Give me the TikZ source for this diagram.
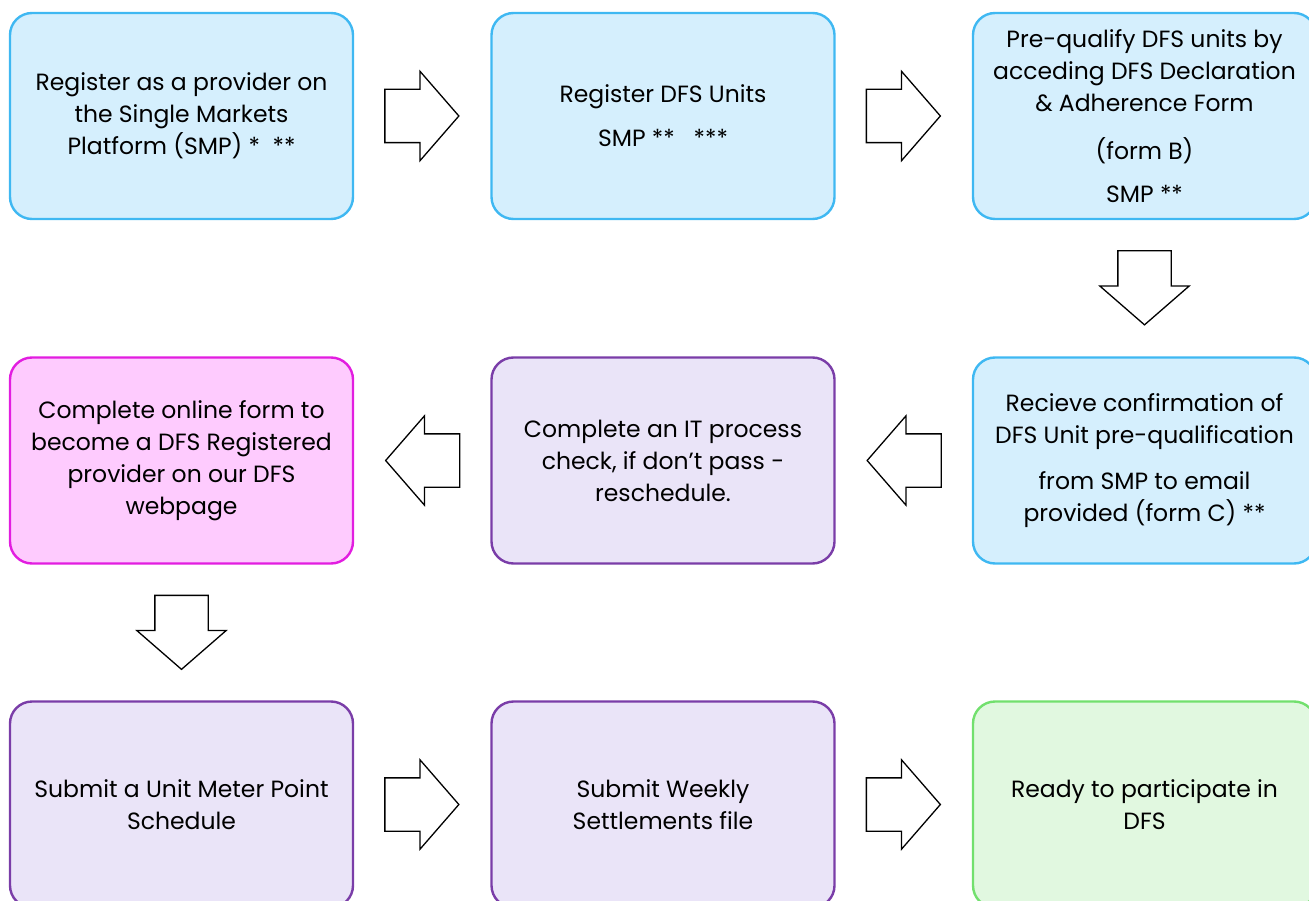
\documentclass[tikz,border=0pt]{standalone}
\usepackage{fontspec}
\setmainfont{Poppins}
\usepackage{tikz}
\usetikzlibrary{shapes.arrows, calc}
\definecolor{skyfill}{HTML}{D5EFFD}
\definecolor{skyline}{HTML}{3FB8F2}
\definecolor{pinkfill}{HTML}{FECBFE}
\definecolor{pinkline}{HTML}{E21DE0}
\definecolor{lilacfill}{HTML}{EAE4F8}
\definecolor{lilacline}{HTML}{7A3DA8}
\definecolor{mintfill}{HTML}{E1F8E0}
\definecolor{mintline}{HTML}{72E06E}

\begin{document}
\begin{tikzpicture}[x=1pt, y=-1pt,
    stage/.style={rectangle, rounded corners=22pt, minimum width=343pt, minimum height=206pt, align=center, line width=2.4pt, inner sep=0pt, font=\fontsize{23.5}{32}\selectfont},
    sky/.style={stage, draw=skyline, fill=skyfill},
    pink/.style={stage, draw=pinkline, fill=pinkfill},
    lilac/.style={stage, draw=lilacline, fill=lilacfill},
    mint/.style={stage, draw=mintline, fill=mintfill},
    blockarrow/.style={single arrow, draw=black, fill=white, line width=1.3pt, inner sep=0pt, minimum width=88pt, minimum height=74pt, single arrow tip angle=98, single arrow head extend=18pt, anchor=tail},
    across/.style={blockarrow, inner ysep=26pt},
    downward/.style={blockarrow, inner xsep=26pt, shape border rotate=270}
]
    \useasboundingbox (0,0) rectangle (1309,901);

    % --- Row 1: SMP registration ---
    \node[sky] (reg) at (181.5, 116) {Register as a provider on\\the Single Markets\\Platform (SMP) *\ \ **};
    \node[sky] (units) at (663, 116) {Register DFS Units\\[12pt]SMP **\ \ \ ***};
    \node[sky] (prequal) at (1144.5, 116) {Pre-qualify DFS units by\\acceding DFS Declaration\\\& Adherence Form\\[16pt](form B)\\[11pt]SMP **};

    % --- Row 2: confirmation and checks ---
    \node[sky] (confirm) at (1144.5, 460.5) {Recieve confirmation of\\DFS Unit pre-qualification\\[14pt]from SMP to email\\provided (form C) **};
    \node[lilac] (itcheck) at (663, 460.5) {Complete an IT process\\check, if don't pass -\\reschedule.};
    \node[pink] (online) at (181.5, 460.5) {Complete online form to\\become a DFS Registered\\provider on our DFS\\webpage};

    % --- Row 3: submissions ---
    \node[lilac] (meter) at (181.5, 804.5) {Submit a Unit Meter Point\\Schedule};
    \node[lilac] (weekly) at (663, 804.5) {Submit Weekly\\Settlements file};
    \node[mint] (ready) at (1144.5, 804.5) {Ready to participate in\\DFS};

    % Block arrows
    \node[across] (a1) at ($(reg.east)+(30,0)$) {};
    \node[across] (a2) at ($(units.east)+(30,0)$) {};
    \node[downward] (a3) at ($(prequal.south)+(0,30)$) {};
    \node[across, shape border rotate=180] (a4) at ($(confirm.west)+(-30,0)$) {};
    \node[across, shape border rotate=180] (a5) at ($(itcheck.west)+(-30,0)$) {};
    \node[downward] (a6) at ($(online.south)+(0,30)$) {};
    \node[across] (a7) at ($(meter.east)+(30,0)$) {};
    \node[across] (a8) at ($(weekly.east)+(30,0)$) {};
\end{tikzpicture}
\end{document}
